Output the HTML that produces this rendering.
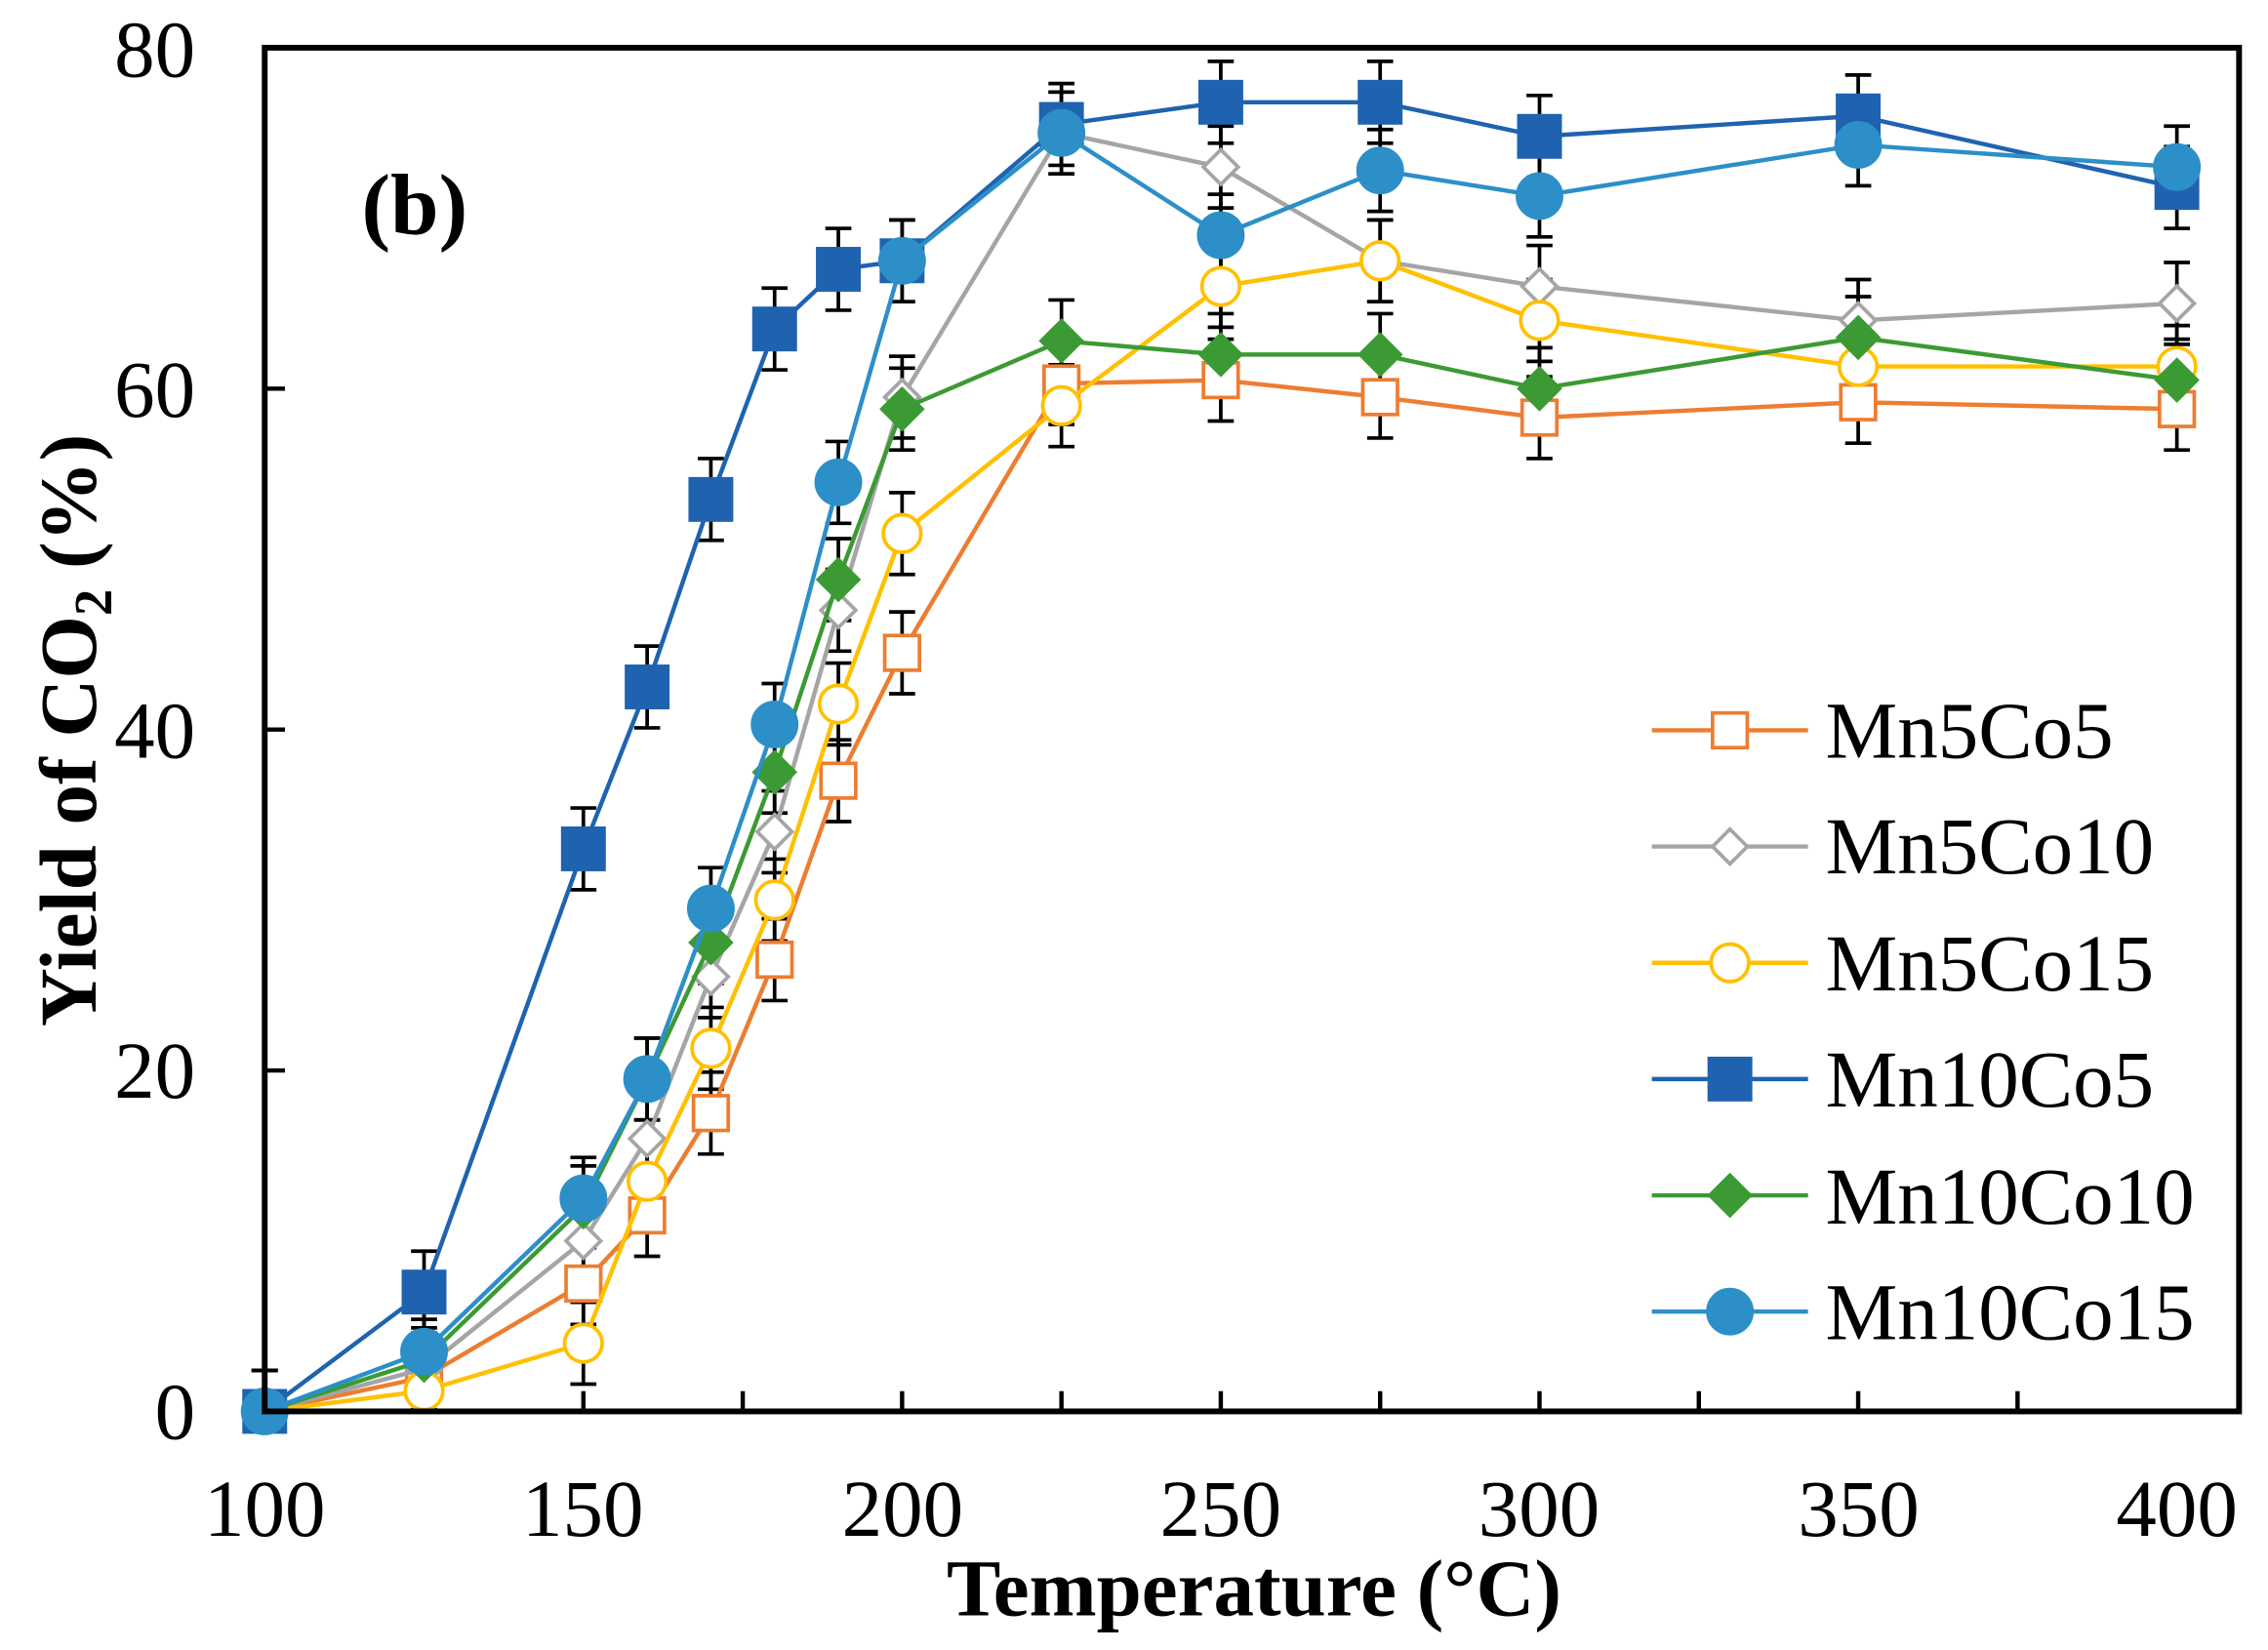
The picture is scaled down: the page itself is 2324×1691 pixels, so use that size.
<!DOCTYPE html>
<html><head><meta charset="utf-8"><style>
html,body{margin:0;padding:0;background:#fff;}
svg{display:block;}
text{font-family:"Liberation Serif",serif;fill:#000;}
</style></head><body>
<svg id="s" width="2324" height="1691" viewBox="0 0 1568 1141" preserveAspectRatio="none" xmlns="http://www.w3.org/2000/svg">
<rect width="1568" height="1141" fill="#fff"/>
<g id="plot"></g>
<rect x="183" y="33" width="1365" height="943" fill="none" stroke="#000" stroke-width="4"/>
<g font-size="56" text-anchor="end">
<text x="135" y="995">0</text>
<text x="135" y="759">20</text>
<text x="135" y="524">40</text>
<text x="135" y="288">60</text>
<text x="135" y="53">80</text>
</g>
<g font-size="56" text-anchor="middle">
<text x="183" y="1062">100</text>
<text x="403" y="1062">150</text>
<text x="624" y="1062">200</text>
<text x="844" y="1062">250</text>
<text x="1064" y="1062">300</text>
<text x="1285" y="1062">350</text>
<text x="1505" y="1062">400</text>
</g>
<text x="867" y="1117" font-size="56" font-weight="bold" text-anchor="middle">Temperature (°C)</text>
<text transform="translate(66,505) rotate(-90)" font-size="56" font-weight="bold" text-anchor="middle">Yield of CO<tspan font-size="37" dy="11">2</tspan><tspan dy="-11"> (%)</tspan></text>
<text x="250" y="162" font-size="60" font-weight="bold">(b)</text>
<g font-size="56">
<text x="1262" y="524">Mn5Co5</text>
<text x="1262" y="604">Mn5Co10</text>
<text x="1262" y="685">Mn5Co15</text>
<text x="1262" y="765">Mn10Co5</text>
<text x="1262" y="846">Mn10Co10</text>
<text x="1262" y="926">Mn10Co15</text>
</g>
<g id="leg"></g>
</svg>
<script>
var NS="http://www.w3.org/2000/svg";
function X(t){return 183+(t-100)*4.4067;}
function Y(v){return 976-v*11.7875;}
function el(p,n,a){var e=document.createElementNS(NS,n);for(var k in a)e.setAttribute(k,a[k]);p.appendChild(e);return e;}
var plot=document.getElementById('plot'),leg=document.getElementById('leg');
for(var v=20;v<80;v+=20)el(plot,'line',{x1:183,x2:197,y1:Y(v),y2:Y(v),stroke:'#000','stroke-width':3});
for(var t=125;t<400;t+=25)el(plot,'line',{x1:X(t),x2:X(t),y1:976,y2:962,stroke:'#000','stroke-width':3});
var T=[100,125,150,160,170,180,190,200,225,250,275,300,350,400];
var S=[
{c:'#ED7D31',m:'sq',f:false,d:[0,2,7.5,11.5,17.5,26.5,37,44.5,60.3,60.5,59.5,58.3,59.2,58.8]},
{c:'#A5A5A5',m:'di',f:false,d:[0,2.5,10,16,25.5,34,47,59.5,75,73,67.5,66,64,65]},
{c:'#FFC000',m:'ci',f:false,d:[0,1.2,4,13.5,21.3,30,41.5,51.5,59,66,67.5,64,61.3,61.3]},
{c:'#1F63B0',m:'sq',f:true,d:[0,7,33,42.5,53.5,63.5,67,67.5,75.5,76.8,76.8,74.8,76,71.8]},
{c:'#3C9A34',m:'di',f:true,d:[0,3,12,19.5,27.5,37.5,48.8,58.8,62.8,62,62,60,63,60.5]},
{c:'#2C8FC8',m:'ci',f:true,d:[0,3.5,12.5,19.5,29.5,40.3,54.5,67.5,75,69,72.8,71.3,74.3,73]}];
function mark(g,s,x,y){
 var a={fill:s.f?s.c:'#fff',stroke:s.c,'stroke-width':s.f?1:2.5};
 var r=s.f?15:12;
 if(s.m=='sq'){a.x=x-r;a.y=y-r;a.width=2*r;a.height=2*r;el(g,'rect',a);}
 else if(s.m=='ci'){a.cx=x;a.cy=y;a.r=s.f?16:13;el(g,'circle',a);}
 else {r=s.f?15:12;a.points=[x,y-r,x+r,y,x,y+r,x-r,y].join(' ');el(g,'polygon',a);}
}
S.forEach(function(s){s.d.forEach(function(v,i){var x=X(T[i]),e=2.4;
 el(plot,'line',{x1:x,x2:x,y1:Y(v+e),y2:Y(Math.max(v-e,0)),stroke:'#000','stroke-width':2.5});
 el(plot,'line',{x1:x-9,x2:x+9,y1:Y(v+e),y2:Y(v+e),stroke:'#000','stroke-width':2.5});
 if(v-e>0)el(plot,'line',{x1:x-9,x2:x+9,y1:Y(v-e),y2:Y(v-e),stroke:'#000','stroke-width':2.5});});});
S.forEach(function(s){
 el(plot,'polyline',{points:s.d.map(function(v,i){return X(T[i])+','+Y(v);}).join(' '),fill:'none',stroke:s.c,'stroke-width':3});
 s.d.forEach(function(v,i){mark(plot,s,X(T[i]),Y(v));});});
S.forEach(function(s,i){var y=505+i*80.4;
 el(leg,'line',{x1:1142,x2:1250,y1:y,y2:y,stroke:s.c,'stroke-width':3});mark(leg,s,1196,y);});
</script>
</body></html>
